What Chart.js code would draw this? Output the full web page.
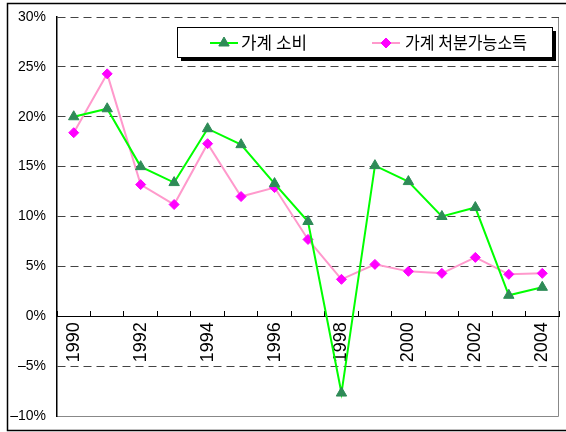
<!DOCTYPE html>
<html>
<head>
<meta charset="utf-8">
<script src="https://cdn.jsdelivr.net/npm/chart.js@4/dist/chart.umd.min.js"></script>
<style>
  html, body { margin: 0; padding: 0; background: #fff; }
  #wrap { width: 566px; height: 432px; }
</style>
</head>
<body>
<div id="wrap"><canvas id="chart"></canvas></div>
<script>
var years = ['1990', '1991', '1992', '1993', '1994', '1995', '1996', '1997', '1998', '1999', '2000', '2001', '2002', '2003', '2004'];
var consumption = [20.0, 20.8, 15.0, 13.4, 18.8, 17.2, 13.3, 9.5, -7.7, 15.1, 13.5, 10.0, 10.9, 2.1, 2.9];
var disposable = [18.4, 24.3, 13.2, 11.2, 17.3, 12.0, 12.9, 7.7, 3.7, 5.2, 4.5, 4.3, 5.9, 4.2, 4.3];
var seriesNames = ['가계 소비', '가계 처분가능소득'];

// frame round the picture and plot, drawn behind everything
var framePlugin = {
	id: 'frame',
	beforeDraw: function(chart){
		var ctx = chart.ctx, a = chart.chartArea;
		ctx.save();
		ctx.fillStyle = '#fff';
		ctx.fillRect(0, 0, chart.width, chart.height);
		ctx.strokeStyle = '#000';
		ctx.lineWidth = 1.5;
		ctx.beginPath();
		ctx.moveTo(chart.width + 5, 3.5);
		ctx.lineTo(7.5, 3.5);
		ctx.lineTo(7.5, 430.5);
		ctx.lineTo(chart.width + 5, 430.5);
		ctx.stroke();
		ctx.strokeStyle = '#888';
		ctx.lineWidth = 1;
		ctx.beginPath();
		ctx.moveTo(a.left, a.bottom + 0.5);
		ctx.lineTo(a.right - 0.5, a.bottom + 0.5);
		ctx.lineTo(a.right - 0.5, a.top);
		ctx.stroke();
		ctx.restore();
	}
};

// boxed legend with shadow, line + marker samples
var legendPlugin = {
	id: 'boxLegend',
	afterDraw: function(chart){
		var ctx = chart.ctx;
		var bx = 177, by = 27, bw = 375, bh = 30;
		ctx.save();
		ctx.fillStyle = '#000';
		ctx.fillRect(bx + 4, by + 4, bw, bh);
		ctx.fillStyle = '#fff';
		ctx.fillRect(bx, by, bw, bh);
		ctx.strokeStyle = '#000';
		ctx.lineWidth = 1;
		ctx.strokeRect(bx + 0.5, by + 0.5, bw, bh);
		ctx.restore();

		var items = [
			{ x: 210, textX: 241, width: 66 },
			{ x: 372, textX: 405, width: 122 }
		];
		var cy = by + 16;
		chart.data.datasets.forEach(function(ds, i){
			var it = items[i];
			ctx.save();
			ctx.strokeStyle = ds.borderColor;
			ctx.lineWidth = 2;
			ctx.beginPath();
			ctx.moveTo(it.x, cy);
			ctx.lineTo(it.x + 28, cy);
			ctx.stroke();
			ctx.fillStyle = ds.pointBackgroundColor;
			ctx.strokeStyle = ds.pointBorderColor;
			ctx.lineWidth = 1;
			Chart.helpers.drawPoint(ctx, {
				pointStyle: ds.pointStyle,
				radius: ds.pointRadius,
				borderWidth: 1
			}, it.x + 14, cy);
			ctx.font = '17px "Noto Sans CJK KR", sans-serif';
			ctx.fillStyle = '#000';
			ctx.textBaseline = 'middle';
			var w = ctx.measureText(ds.label).width;
			ctx.translate(it.textX, cy);
			ctx.scale(it.width / w, 1);
			ctx.fillText(ds.label, 0, 0);
			ctx.restore();
		});
	}
};

var ctx = document.getElementById('chart');
new Chart(ctx, {
	type: 'line',
	data: {
		labels: years,
		datasets: [
			{
				label: seriesNames[0],
				data: consumption,
				borderColor: '#00FF00',
				borderWidth: 2,
				pointStyle: 'triangle',
				pointRadius: 6,
				pointBackgroundColor: '#2E8B57',
				pointBorderColor: '#2E8B57',
				pointBorderWidth: 1,
				tension: 0
			},
			{
				label: seriesNames[1],
				data: disposable,
				borderColor: '#FF99CC',
				borderWidth: 2,
				pointStyle: 'rectRot',
				pointRadius: 5,
				pointBackgroundColor: '#FF00FF',
				pointBorderColor: '#FF00FF',
				pointBorderWidth: 1,
				tension: 0
			}
		]
	},
	options: {
		responsive: true,
		maintainAspectRatio: false,
		animation: false,
		layout: { padding: { left: 0, top: 17, right: 6, bottom: 16 } },
		plugins: {
			legend: { display: false },
			tooltip: { enabled: false }
		},
		scales: {
			x: {
				type: 'category',
				position: { y: 0 },
				offset: true,
				afterFit: function(scale){
					scale.height = 0;
					scale.paddingLeft = 0;
					scale.paddingRight = 0;
				},
				grid: {
					offset: true,
					drawOnChartArea: false,
					drawTicks: true,
					tickLength: -6,
					tickColor: '#000',
					tickWidth: 1
				},
				border: { display: true, color: '#000', width: 1 },
				ticks: {
					autoSkip: false,
					minRotation: 90,
					maxRotation: 90,
					padding: 12,
					color: '#000',
					font: { family: '"Liberation Sans", Arial, sans-serif', size: 18 },
					callback: function(v, i){ return i % 2 === 0 ? years[i] : ''; }
				}
			},
			y: {
				min: -10,
				max: 30,
				afterFit: function(scale){
					scale.width = 57;
					scale.paddingTop = 0;
					scale.paddingBottom = 0;
				},
				grid: {
					drawTicks: false,
					color: function(c){
						var v = c.tick ? c.tick.value : null;
						return (v === 0 || v === -10) ? 'rgba(0,0,0,0)' : '#444';
					},
					lineWidth: 1
				},
				border: { display: true, color: '#000', width: 1.5, dash: [8, 5] },
				ticks: {
					stepSize: 5,
					padding: 11,
					color: '#000',
					font: { family: '"Liberation Sans", Arial, sans-serif', size: 14 },
					callback: function(v){ return (v < 0 ? '\u2013' + Math.abs(v) : v) + '%'; }
				}
			}
		}
	},
	plugins: [framePlugin, legendPlugin]
});
</script>
</body>
</html>
